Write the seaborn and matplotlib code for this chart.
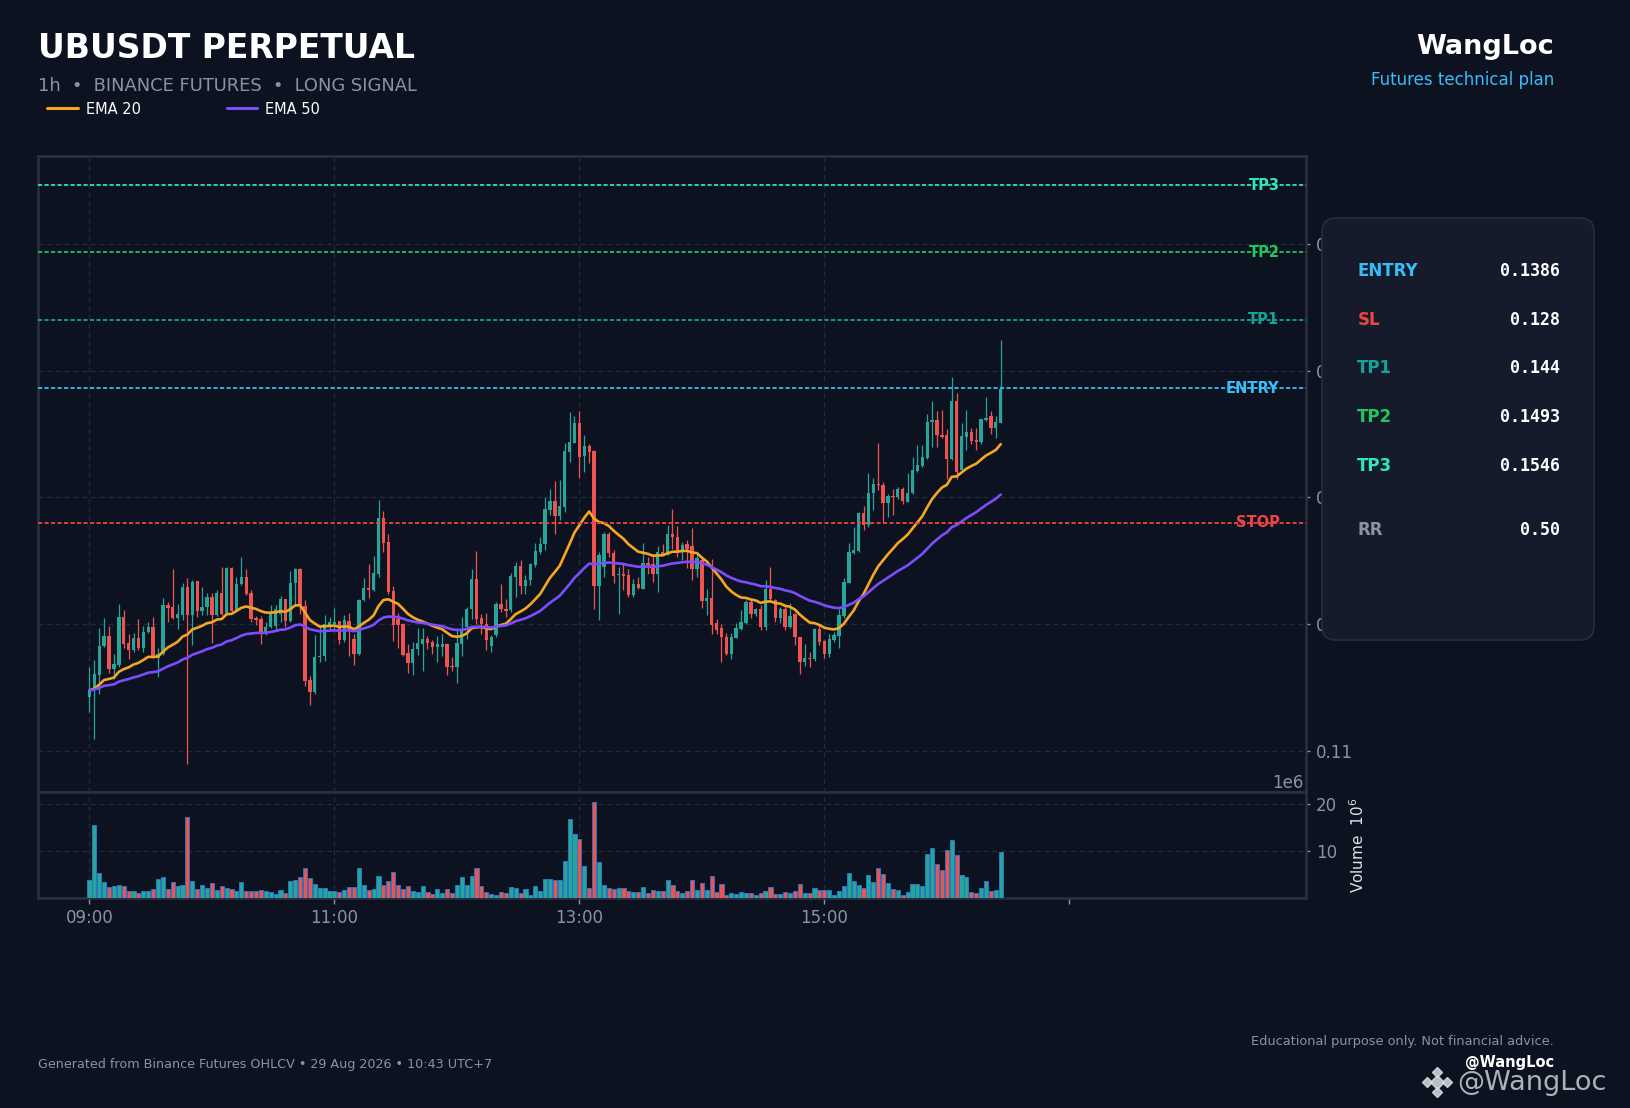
import numpy as np
import pandas as pd
import matplotlib
matplotlib.use("Agg")
import matplotlib.pyplot as plt
import matplotlib.transforms as mtrans
import seaborn as sns
from matplotlib.patches import FancyBboxPatch
from matplotlib.lines import Line2D

# ---- candles (one candle per slot, 09:00 = slot 0) ----
opens = [0.11429, 0.11482, 0.11600, 0.11829, 0.11908, 0.11650, 0.11679, 0.12058, 0.11850, 0.11797,
         0.11897, 0.11818, 0.11939, 0.11976, 0.11739, 0.11771, 0.12153, 0.12134, 0.12047, 0.12074,
         0.12297, 0.12074, 0.12342, 0.12105, 0.12134, 0.12218, 0.12074, 0.12250, 0.12087, 0.12442,
         0.12113, 0.12318, 0.12371, 0.12245, 0.12053, 0.12039, 0.11942, 0.11982, 0.11990, 0.12084,
         0.12197, 0.12026, 0.12329, 0.12439, 0.12142, 0.11566, 0.11471, 0.11742, 0.11750, 0.11992,
         0.12000, 0.12024, 0.11874, 0.12024, 0.11887, 0.11768, 0.12189, 0.12289, 0.12268, 0.12395,
         0.12842, 0.12647, 0.12261, 0.12045, 0.12000, 0.11776, 0.11695, 0.11808, 0.11847, 0.11887,
         0.11858, 0.11821, 0.11826, 0.11842, 0.11676, 0.11663, 0.11847, 0.11979, 0.12121, 0.12355,
         0.12053, 0.12005, 0.11830, 0.11913, 0.12163, 0.12124, 0.12111, 0.12374, 0.12458, 0.12300,
         0.12347, 0.12466, 0.12571, 0.12632, 0.12900, 0.12971, 0.12855, 0.12926, 0.13361, 0.13432,
         0.13584, 0.13326, 0.13405, 0.13366, 0.12303, 0.12453, 0.12716, 0.12566, 0.12387, 0.12400,
         0.12387, 0.12229, 0.12321, 0.12282, 0.12487, 0.12474, 0.12400, 0.12571, 0.12550, 0.12711,
         0.12685, 0.12585, 0.12633, 0.12617, 0.12436, 0.12507, 0.12186, 0.12210, 0.12008, 0.11969,
         0.11903, 0.11766, 0.11895, 0.11963, 0.12008, 0.12178, 0.12081, 0.12121, 0.11982, 0.12278,
         0.12192, 0.12052, 0.12118, 0.11982, 0.12079, 0.11898, 0.11706, 0.11738, 0.11727, 0.11961,
         0.11869, 0.11766, 0.11877, 0.11911, 0.12066, 0.12328, 0.12564, 0.12577, 0.12874, 0.12787,
         0.13037, 0.13105, 0.13097, 0.12958, 0.13013, 0.13000, 0.13066, 0.12966, 0.13037, 0.13210,
         0.13247, 0.13312, 0.13593, 0.13609, 0.13491, 0.13491, 0.13302, 0.13761, 0.13215, 0.13478,
         0.13517, 0.13451, 0.13438, 0.13609, 0.13640, 0.13549, 0.13588]
highs = [0.11666, 0.11718, 0.11968, 0.12047, 0.11989, 0.11771, 0.12158, 0.12113, 0.11924, 0.11929,
         0.12039, 0.11987, 0.12021, 0.12055, 0.11811, 0.12211, 0.12179, 0.12434, 0.12161, 0.12324,
         0.12363, 0.12350, 0.12345, 0.12297, 0.12250, 0.12250, 0.12271, 0.12450, 0.12450, 0.12450,
         0.12376, 0.12529, 0.12434, 0.12271, 0.12066, 0.12066, 0.12021, 0.12153, 0.12150, 0.12221,
         0.12203, 0.12421, 0.12447, 0.12447, 0.12195, 0.11597, 0.11913, 0.11979, 0.12071, 0.12058,
         0.12132, 0.12026, 0.12071, 0.12092, 0.11926, 0.12203, 0.12368, 0.12474, 0.12542, 0.12979,
         0.12892, 0.12716, 0.12303, 0.12089, 0.12011, 0.11842, 0.11861, 0.11974, 0.11974, 0.11908,
         0.11874, 0.11908, 0.11921, 0.11853, 0.11742, 0.11974, 0.12058, 0.12137, 0.12439, 0.12579,
         0.12084, 0.12090, 0.11920, 0.12176, 0.12321, 0.12197, 0.12405, 0.12492, 0.12505, 0.12392,
         0.12487, 0.12642, 0.12689, 0.13005, 0.13063, 0.13126, 0.13137, 0.13426, 0.13676, 0.13642,
         0.13682, 0.13492, 0.13421, 0.13374, 0.12571, 0.12729, 0.12729, 0.12584, 0.12453, 0.12479,
         0.12439, 0.12361, 0.12374, 0.12645, 0.12532, 0.12558, 0.12618, 0.12632, 0.12782, 0.12913,
         0.12774, 0.12651, 0.12664, 0.12761, 0.12546, 0.12520, 0.12283, 0.12512, 0.12039, 0.12000,
         0.11929, 0.11929, 0.12013, 0.12113, 0.12192, 0.12197, 0.12126, 0.12152, 0.12349, 0.12449,
         0.12197, 0.12139, 0.12152, 0.12165, 0.12092, 0.11903, 0.11843, 0.11785, 0.11969, 0.12000,
         0.11877, 0.11924, 0.11942, 0.12118, 0.12362, 0.12638, 0.12769, 0.12882, 0.12932, 0.13189,
         0.13150, 0.13433, 0.13123, 0.13031, 0.13063, 0.13084, 0.13084, 0.13194, 0.13320, 0.13417,
         0.13417, 0.13654, 0.13759, 0.13680, 0.13688, 0.13538, 0.13950, 0.13827, 0.13583, 0.13688,
         0.13551, 0.13551, 0.13622, 0.13793, 0.13680, 0.13640, 0.14244]
lows = [0.11311, 0.11100, 0.11455, 0.11824, 0.11618, 0.11574, 0.11666, 0.11811, 0.11724, 0.11784,
        0.11797, 0.11784, 0.11929, 0.11732, 0.11582, 0.11758, 0.12021, 0.12039, 0.11961, 0.12034,
        0.10903, 0.11837, 0.12061, 0.12074, 0.12074, 0.11850, 0.12066, 0.12074, 0.12079, 0.12100,
        0.12108, 0.12311, 0.12232, 0.12021, 0.11995, 0.11845, 0.11916, 0.11968, 0.11953, 0.12018,
        0.11979, 0.12018, 0.12163, 0.12084, 0.11518, 0.11368, 0.11453, 0.11703, 0.11711, 0.11953,
        0.11953, 0.11847, 0.11861, 0.11755, 0.11682, 0.11763, 0.12184, 0.12211, 0.12263, 0.12374,
        0.12571, 0.12242, 0.11868, 0.11816, 0.11755, 0.11616, 0.11603, 0.11763, 0.11632, 0.11803,
        0.11768, 0.11703, 0.11755, 0.11603, 0.11637, 0.11539, 0.11755, 0.11887, 0.12045, 0.12005,
        0.11926, 0.11800, 0.11780, 0.11900, 0.12097, 0.12058, 0.12097, 0.12216, 0.12242, 0.12242,
        0.12308, 0.12453, 0.12558, 0.12584, 0.12861, 0.12716, 0.12821, 0.12887, 0.13282, 0.13426,
        0.13150, 0.13203, 0.13268, 0.12124, 0.12032, 0.12374, 0.12532, 0.12326, 0.12084, 0.12268,
        0.12216, 0.12216, 0.12282, 0.12276, 0.12400, 0.12334, 0.12255, 0.12545, 0.12545, 0.12598,
        0.12533, 0.12507, 0.12441, 0.12349, 0.12375, 0.12126, 0.12073, 0.11924, 0.11924, 0.11701,
        0.11759, 0.11724, 0.11890, 0.11958, 0.12003, 0.12052, 0.12066, 0.11955, 0.11955, 0.12178,
        0.12021, 0.12008, 0.11955, 0.11969, 0.11837, 0.11606, 0.11672, 0.11667, 0.11714, 0.11837,
        0.11732, 0.11745, 0.11864, 0.11811, 0.12047, 0.12323, 0.12554, 0.12572, 0.12740, 0.12769,
        0.12900, 0.13058, 0.12808, 0.12843, 0.12861, 0.12992, 0.12948, 0.12961, 0.13031, 0.13202,
        0.13241, 0.13307, 0.13399, 0.13399, 0.13472, 0.13142, 0.13299, 0.13142, 0.13202, 0.13373,
        0.13425, 0.13378, 0.13425, 0.13604, 0.13504, 0.13465, 0.13583]
closes = [0.11482, 0.11608, 0.11829, 0.11908, 0.11650, 0.11687, 0.12058, 0.11845, 0.11797, 0.11897,
          0.11818, 0.11939, 0.11976, 0.11739, 0.11771, 0.12153, 0.12132, 0.12047, 0.12082, 0.12297,
          0.12074, 0.12337, 0.12105, 0.12134, 0.12213, 0.12074, 0.12245, 0.12082, 0.12442, 0.12108,
          0.12318, 0.12371, 0.12239, 0.12039, 0.12034, 0.11942, 0.11982, 0.12087, 0.12124, 0.12203,
          0.12026, 0.12329, 0.12439, 0.12150, 0.11558, 0.11466, 0.11747, 0.11755, 0.12005, 0.12016,
          0.12018, 0.11874, 0.12032, 0.11958, 0.11768, 0.12189, 0.12284, 0.12268, 0.12405, 0.12842,
          0.12642, 0.12255, 0.11997, 0.11997, 0.11763, 0.11695, 0.11808, 0.11850, 0.11889, 0.11853,
          0.11821, 0.11842, 0.11842, 0.11668, 0.11663, 0.11850, 0.11966, 0.12124, 0.12355, 0.12045,
          0.12005, 0.11874, 0.11900, 0.12163, 0.12124, 0.12105, 0.12379, 0.12458, 0.12300, 0.12347,
          0.12474, 0.12576, 0.12637, 0.12908, 0.12971, 0.12855, 0.12932, 0.13366, 0.13437, 0.13584,
          0.13321, 0.13405, 0.13361, 0.12303, 0.12545, 0.12716, 0.12563, 0.12382, 0.12400, 0.12382,
          0.12229, 0.12321, 0.12289, 0.12487, 0.12471, 0.12400, 0.12571, 0.12550, 0.12716, 0.12685,
          0.12580, 0.12625, 0.12598, 0.12436, 0.12520, 0.12186, 0.12210, 0.11995, 0.11955, 0.11903,
          0.11766, 0.11903, 0.11969, 0.12016, 0.12178, 0.12081, 0.12118, 0.11982, 0.12278, 0.12197,
          0.12052, 0.12118, 0.11982, 0.12068, 0.11903, 0.11706, 0.11738, 0.11727, 0.11961, 0.11864,
          0.11766, 0.11885, 0.11916, 0.12073, 0.12336, 0.12572, 0.12585, 0.12874, 0.12782, 0.13039,
          0.13105, 0.13097, 0.12953, 0.13011, 0.13000, 0.13066, 0.12974, 0.13039, 0.13215, 0.13255,
          0.13318, 0.13593, 0.13609, 0.13491, 0.13478, 0.13302, 0.13761, 0.13202, 0.13483, 0.13517,
          0.13446, 0.13438, 0.13617, 0.13630, 0.13549, 0.13591, 0.13858]
volumes_m = [3.9, 15.6, 5.3, 3.4, 2.3, 2.6, 2.8, 2.6, 1.5, 1.5,
             1.1, 1.5, 1.5, 1.9, 4.0, 4.5, 1.9, 3.4, 2.6, 2.8,
             17.2, 3.6, 1.9, 2.8, 2.1, 3.2, 1.7, 2.6, 2.1, 1.9,
             1.5, 3.4, 1.5, 1.5, 1.5, 1.7, 1.5, 1.3, 0.9, 1.7,
             1.1, 3.6, 3.8, 4.5, 6.4, 4.3, 3.0, 2.1, 2.1, 1.5,
             1.5, 1.3, 1.7, 2.3, 2.3, 6.4, 2.8, 1.7, 1.9, 4.7,
             2.8, 3.6, 5.5, 2.8, 1.9, 2.6, 1.5, 1.3, 2.6, 1.3,
             0.9, 1.9, 1.1, 1.9, 1.1, 2.8, 4.5, 2.8, 4.7, 6.4,
             2.6, 1.3, 0.9, 0.6, 1.3, 1.1, 2.3, 2.1, 1.1, 1.9,
             0.6, 2.6, 1.5, 4.0, 4.0, 3.8, 3.8, 7.9, 16.8, 13.6,
             12.6, 6.8, 2.1, 20.4, 7.7, 2.8, 2.1, 1.9, 2.1, 2.1,
             1.5, 1.3, 1.3, 2.3, 1.1, 1.7, 1.5, 1.5, 3.8, 2.8,
             1.5, 1.1, 1.5, 3.8, 1.7, 3.2, 1.7, 4.7, 1.3, 3.0,
             0.6, 1.1, 0.9, 1.3, 1.1, 1.1, 0.6, 1.1, 1.5, 2.3,
             0.9, 0.9, 1.3, 1.1, 1.5, 3.0, 1.1, 1.1, 2.1, 1.7,
             1.7, 1.7, 0.6, 1.5, 2.6, 5.3, 3.6, 2.8, 2.1, 4.9,
             3.4, 6.4, 5.1, 3.2, 1.9, 1.7, 0.6, 1.3, 3.0, 3.0,
             2.6, 9.4, 10.6, 7.2, 6.0, 10.2, 12.3, 9.1, 4.9, 4.5,
             1.3, 1.1, 2.1, 3.6, 1.5, 1.7, 9.8]

time_tick_slots = [0, 50, 100, 150, 200]
time_tick_labels = ["09:00", "11:00", "13:00", "15:00", ""]

level_names = ["TP3", "TP2", "TP1", "ENTRY", "STOP"]
level_prices = [0.1546, 0.1493, 0.1440, 0.1386, 0.1280]

panel_labels = ["ENTRY", "SL", "TP1", "TP2", "TP3", "RR"]
panel_values = ["0.1386", "0.128", "0.144", "0.1493", "0.1546", "0.50"]

# ---- colours ----
BG = "#0c1220"
PANEL = "#151b2b"
EDGE = "#2a303c"
GRID = "#232a38"
MUTED = "#8b93a1"
UP = "#26a69a"
DOWN = "#ef5350"
EMA20_C = "#f5a623"
EMA50_C = "#7c4dff"
level_colors = {"TP3": "#2ee6b6", "TP2": "#22c55e", "TP1": "#14a39a",
                "ENTRY": "#38bdf8", "STOP": "#ef4444", "SL": "#ef4444", "RR": MUTED}

sns.set_theme(style="dark", rc={"axes.facecolor": BG, "figure.facecolor": BG,
                                "savefig.facecolor": BG, "axes.edgecolor": EDGE})
plt.rcParams["font.family"] = ["DejaVu Sans"]

df = pd.DataFrame({"open": opens, "high": highs, "low": lows, "close": closes,
                   "volume": volumes_m})
df["slot"] = np.arange(len(df))
df["ema20"] = df["close"].ewm(span=20, adjust=False).mean()
df["ema50"] = df["close"].ewm(span=50, adjust=False).mean()
bar_colors = np.where(df["close"] >= df["open"], UP, DOWN)

fig = plt.figure(figsize=(16.31, 11.08), dpi=100)
ax = fig.add_axes([0.0230, 0.2852, 0.7777, 0.5740])
axv = fig.add_axes([0.0230, 0.1893, 0.7777, 0.0959], sharex=ax)

# grid
for t in time_tick_slots[:-1]:
    ax.axvline(t, color=GRID, lw=0.9, ls=(0, (4, 3)), zorder=1)
    axv.axvline(t, color=GRID, lw=0.9, ls=(0, (4, 3)), zorder=1)
ax.grid(axis="y", color=GRID, lw=0.9, ls=(0, (4, 3)))
axv.grid(axis="y", color=GRID, lw=0.9, ls=(0, (4, 3)))
ax.grid(axis="x", visible=False)
axv.grid(axis="x", visible=False)

# candles
ax.vlines(df["slot"], df["low"], df["high"], colors=bar_colors, lw=0.9, zorder=3)
body_low = np.minimum(df["open"], df["close"])
body_h = np.maximum((df["close"] - df["open"]).abs(), 0.00008)
ax.bar(df["slot"], body_h, bottom=body_low, width=0.68, color=bar_colors, lw=0, zorder=4)

sns.lineplot(data=df, x="slot", y="ema20", ax=ax, color=EMA20_C, lw=1.9, zorder=5)
sns.lineplot(data=df, x="slot", y="ema50", ax=ax, color=EMA50_C, lw=1.9, zorder=5)

# plan levels
for name, price in zip(level_names, level_prices):
    c = level_colors[name]
    ax.axhline(price, color=c, lw=1.3, ls=(0, (2.3, 1.3)), zorder=6)
    ax.text(242.9, price, name, color=c, fontsize=10.5, fontweight="bold",
            ha="right", va="center", zorder=7)

ax.set_xlim(-10.6, 248.3)
ax.set_ylim(0.1068, 0.1569)
ax.set_yticks([0.11, 0.12, 0.13, 0.14, 0.15])
ax.yaxis.tick_right()
ax.tick_params(axis="y", right=True, left=False, length=3, width=1, color=MUTED,
               labelcolor=MUTED, labelsize=12, pad=4)
ax.tick_params(axis="x", bottom=False, labelbottom=False)
ax.set_xlabel("")
ax.set_ylabel("")

# volume
axv.bar(df["slot"], df["volume"], width=0.84, color=bar_colors, edgecolor="#2b78c8",
        lw=0.65, zorder=3)
axv.set_ylim(0, 22.5)
axv.set_yticks([10, 20])
axv.yaxis.tick_right()
axv.tick_params(axis="y", right=True, left=False, length=3, width=1, color=MUTED,
                labelcolor=MUTED, labelsize=12, pad=4)
axv.set_xticks(time_tick_slots)
axv.set_xticklabels(time_tick_labels)
axv.tick_params(axis="x", bottom=True, length=4, width=1, color=MUTED,
                labelcolor=MUTED, labelsize=12, pad=4)
axv.yaxis.set_label_position("right")
axv.set_ylabel("Volume  $10^6$", color="#dfe3e8", fontsize=11, labelpad=8)
axv.set_xlabel("")
axv.text(0.998, 1.0, "1e6", transform=axv.transAxes, ha="right", va="bottom",
         color=MUTED, fontsize=12)

for a in (ax, axv):
    for s in a.spines.values():
        s.set_visible(True)
        s.set_color(EDGE)
        s.set_linewidth(1.8)

# header
fig.text(0.0230, 0.9558, "UBUSDT PERPETUAL", color="white", fontsize=23.8,
         fontweight="bold", va="center")
fig.text(0.0230, 0.9221, "1h  •  BINANCE FUTURES  •  LONG SIGNAL", color=MUTED,
         fontsize=12.9, va="center")
fig.text(0.9528, 0.9576, "WangLoc", color="white", fontsize=19.5, fontweight="bold",
         ha="right", va="center")
fig.text(0.9528, 0.9278, "Futures technical plan", color="#38bdf8", fontsize=12,
         ha="right", va="center")

handles = [Line2D([], [], color=EMA20_C, lw=2.2), Line2D([], [], color=EMA50_C, lw=2.2)]
fig.legend(handles, ["EMA 20", "EMA 50"], loc="center left", bbox_to_anchor=(0.0288, 0.9016),
           ncol=2, frameon=False, fontsize=10.5, labelcolor="white", handlelength=2.1,
           handletextpad=0.55, columnspacing=5.9, borderpad=0, borderaxespad=0)

# plan panel (pixel coordinates)
px = mtrans.IdentityTransform()
panel = FancyBboxPatch((1322, 1108 - 640), 272, 422, boxstyle="round,pad=0,rounding_size=14",
                       transform=px, facecolor=PANEL, edgecolor="#262d3b", lw=1.2, zorder=2)
fig.add_artist(panel)
row_y = [0.7554, 0.7112, 0.6676, 0.6239, 0.5797, 0.5217]
for lab, val, y in zip(panel_labels, panel_values, row_y):
    fig.text(0.8322, y, lab, color=level_colors[lab], fontsize=12, fontweight="bold",
             va="center", zorder=3)
    fig.text(0.9565, y, val, color="white", fontsize=12, fontweight="bold",
             family="DejaVu Sans Mono", ha="right", va="center", zorder=3)

# footer
fig.text(0.0230, 0.0397, "Generated from Binance Futures OHLCV • 29 Aug 2026 • 10:43 UTC+7",
         color=MUTED, fontsize=9.2, va="center")
fig.text(0.9528, 0.0596, "Educational purpose only. Not financial advice.", color=MUTED,
         fontsize=9.3, ha="right", va="center")
fig.text(0.9528, 0.0412, "@WangLoc", color="white", fontsize=10.5, fontweight="bold",
         ha="right", va="center")

# watermark
cx, cy = 1437, 1108 - 1082
for dx, dy, ms in [(0, 0, 7), (-10, 0, 5), (10, 0, 5), (0, 10, 5), (0, -10, 5)]:
    fig.add_artist(Line2D([cx + dx], [cy + dy], marker="D", ms=ms, color="#d9dde3",
                          alpha=0.85, transform=px, lw=0))
fig.text(0.8933, 0.0228, "@WangLoc", color="#e5e7eb", alpha=0.75, fontsize=19.5, va="center")

fig.savefig("out.png", dpi=100, facecolor=BG)
